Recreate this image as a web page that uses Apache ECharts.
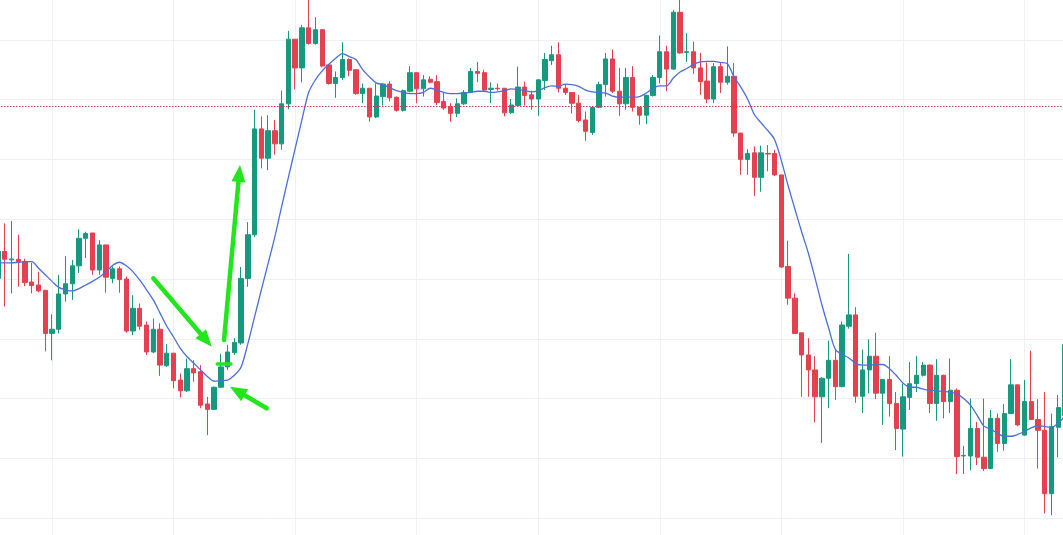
<!DOCTYPE html>
<html>
<head>
<meta charset="utf-8">
<script src="https://cdn.jsdelivr.net/npm/echarts@6/dist/echarts.min.js"></script>
<style>
  html, body { margin: 0; padding: 0; background: #fff; overflow: hidden; width: 1063px; height: 535px; position: relative; }
  /* the screenshot is a crop of a bigger chart, so the plot runs past the window edges */
  #chart { position: absolute; left: -2px; top: -20px; width: 1067px; height: 598px; }
</style>
</head>
<body>
<div id="chart"></div>
<script>
// candles: [open, close, low, high]
const ohlc = [
  [140.1, 144.6, 139.6, 145.3], [144.6, 143.3, 135.4, 149.3], [143.2, 143.35, 137.6, 149.7], [143.3, 142.9, 138.7, 147.4],
  [142.9, 139.4, 138.8, 143.4], [139.5, 138.9, 137.6, 142.7], [139.0, 138.0, 137.8, 141.2], [138.1, 130.9, 127.9, 138.2],
  [130.9, 131.6, 126.4, 134.1], [131.6, 137.5, 130.9, 140.7], [137.5, 139.2, 136.2, 143.8], [139.2, 142.2, 136.5, 143.2],
  [142.2, 146.8, 141.0, 148.3], [146.8, 147.6, 143.5, 147.9], [147.7, 141.5, 140.7, 147.7], [141.5, 145.7, 140.7, 146.5],
  [145.7, 140.3, 137.7, 145.7], [140.1, 141.7, 139.3, 142.1], [141.7, 139.9, 137.7, 142.1], [140.0, 131.3, 131.0, 140.4],
  [131.3, 135.1, 130.6, 137.3], [135.1, 132.1, 131.5, 135.9], [132.3, 127.8, 127.3, 132.9], [127.8, 131.6, 127.6, 133.4],
  [131.6, 125.6, 123.8, 132.6], [125.5, 127.6, 125.3, 129.1], [127.6, 123.0, 121.7, 127.6], [123.1, 121.3, 120.2, 124.2],
  [121.3, 125.0, 121.1, 126.7], [125.0, 124.3, 122.8, 126.4], [124.5, 118.9, 118.4, 125.6], [119.1, 118.2, 113.9, 120.3],
  [118.2, 121.9, 118.1, 122.0], [121.9, 125.3, 121.8, 127.5], [125.3, 127.8, 124.8, 129.0], [127.7, 129.4, 127.3, 130.1],
  [129.3, 140.1, 129.0, 142.0], [140.1, 147.4, 138.7, 149.5], [147.4, 165.1, 147.0, 168.3], [165.1, 160.2, 158.5, 167.2],
  [160.2, 164.8, 158.2, 167.4], [164.8, 162.6, 160.8, 166.6], [162.6, 169.3, 161.6, 171.5], [169.3, 180.1, 168.4, 181.5],
  [180.1, 175.3, 171.7, 180.1], [175.3, 182.0, 172.9, 182.5], [182.0, 179.4, 179.2, 187.0], [179.4, 181.7, 179.2, 183.8],
  [181.7, 175.6, 175.4, 181.7], [175.8, 172.7, 172.5, 175.8], [172.7, 173.7, 170.3, 174.7], [173.7, 176.7, 173.3, 179.6],
  [176.7, 174.9, 173.9, 176.9], [175.0, 171.0, 170.8, 175.0], [171.0, 171.9, 169.4, 172.7], [171.9, 167.1, 166.3, 171.9],
  [167.1, 170.6, 166.9, 172.7], [170.5, 172.6, 169.0, 172.7], [172.6, 170.3, 169.7, 173.1], [170.4, 168.2, 168.0, 170.5],
  [168.2, 171.5, 168.0, 171.7], [171.4, 174.5, 171.2, 175.6], [174.5, 171.8, 169.4, 174.5], [171.8, 173.3, 170.5, 174.1],
  [173.4, 172.9, 172.7, 173.9], [173.0, 169.5, 169.1, 174.1], [169.7, 168.6, 168.3, 171.2], [168.8, 167.7, 166.3, 169.4],
  [167.7, 169.3, 167.1, 170.2], [169.3, 171.2, 169.1, 171.6], [171.2, 174.7, 171.1, 175.3], [174.7, 174.4, 172.9, 176.3],
  [174.5, 171.6, 171.4, 175.0], [171.7, 171.9, 169.4, 172.9], [171.9, 171.8, 171.5, 172.7], [171.9, 167.8, 167.2, 171.9],
  [167.8, 169.1, 167.6, 170.1], [169.0, 172.1, 168.8, 175.5], [172.1, 170.7, 169.0, 173.0], [170.8, 170.1, 168.3, 171.5],
  [170.1, 173.3, 167.3, 173.4], [173.2, 176.7, 171.6, 177.8], [176.5, 177.5, 175.8, 179.0], [177.5, 171.9, 171.2, 179.6],
  [171.9, 171.2, 170.8, 172.6], [171.2, 169.4, 167.7, 171.2], [169.4, 166.5, 166.2, 170.8], [166.6, 164.7, 163.1, 168.0],
  [164.5, 168.7, 164.1, 168.8], [168.7, 172.5, 168.6, 173.0], [172.5, 176.8, 170.5, 177.8], [176.8, 171.4, 171.1, 178.4],
  [171.4, 169.3, 167.3, 175.3], [169.3, 173.7, 168.3, 175.3], [173.7, 168.7, 168.0, 175.6], [168.7, 167.4, 165.8, 168.8],
  [167.4, 170.7, 165.9, 170.8], [170.7, 173.7, 170.5, 174.1], [173.7, 178.0, 172.7, 180.7], [178.0, 175.1, 171.4, 179.0],
  [175.1, 184.6, 175.0, 185.0], [184.6, 177.8, 177.7, 187.2], [177.9, 178.0, 176.3, 181.1], [178.0, 175.3, 174.3, 179.7],
  [175.3, 173.0, 170.8, 177.8], [173.1, 170.1, 169.4, 176.2], [170.1, 175.5, 169.4, 176.1], [175.5, 172.9, 171.1, 176.1],
  [172.9, 173.9, 172.5, 178.9], [173.9, 164.4, 163.8, 176.1], [164.4, 160.0, 157.4, 164.4], [160.0, 161.0, 157.4, 161.7],
  [161.1, 157.0, 153.9, 162.2], [157.0, 161.1, 154.6, 162.3], [161.0, 160.9, 158.0, 162.4], [161.0, 157.4, 157.2, 161.6],
  [157.4, 142.0, 141.9, 157.4], [142.1, 136.8, 135.7, 146.4], [136.8, 130.9, 130.8, 137.6], [131.0, 127.3, 120.3, 131.0],
  [127.3, 124.8, 120.3, 130.1], [124.8, 120.3, 116.0, 127.1], [120.3, 123.4, 112.6, 123.6], [123.4, 126.4, 118.4, 129.7],
  [126.4, 122.0, 119.8, 128.1], [122.0, 132.3, 121.9, 132.9], [132.1, 134.0, 131.7, 144.2], [134.0, 120.4, 119.3, 135.3],
  [120.4, 124.8, 117.6, 128.2], [124.8, 127.1, 120.9, 129.9], [127.1, 120.9, 119.9, 131.0], [120.9, 123.2, 115.6, 123.3],
  [123.2, 119.2, 117.0, 127.1], [119.2, 115.0, 111.4, 121.1], [114.9, 120.3, 110.3, 122.5], [120.2, 122.5, 118.1, 126.1],
  [122.5, 123.9, 121.1, 127.1], [123.9, 125.6, 123.7, 126.1], [125.6, 119.2, 117.6, 125.7], [119.2, 123.9, 116.3, 126.6],
  [123.9, 119.5, 116.7, 124.0], [119.5, 121.4, 117.6, 126.7], [121.4, 110.3, 107.4, 121.7], [110.4, 110.5, 107.4, 112.1],
  [110.4, 115.0, 108.0, 120.0], [115.0, 110.2, 108.9, 116.1], [110.2, 108.3, 107.9, 120.0], [108.3, 116.7, 108.2, 118.1],
  [116.7, 112.5, 111.1, 117.5], [112.5, 117.5, 111.3, 119.1], [117.5, 122.3, 117.4, 126.6], [122.3, 115.6, 115.4, 122.3],
  [113.9, 119.5, 113.8, 123.1], [119.5, 116.5, 116.4, 128.0], [116.5, 114.7, 108.3, 119.9], [114.7, 104.1, 100.8, 121.1],
  [104.1, 115.3, 100.5, 117.5], [115.2, 118.5, 110.2, 120.6], [117.2, 129.0, 116.4, 130.1]
];

// blue moving-average line, read per candle
const ma = [
  142.7, 142.7, 142.7, 142.8, 142.9, 142.9, 141.8, 140.7, 139.6, 138.6,
  138.2, 138.0, 138.4, 139.0, 139.6, 140.3, 141.2, 142.3, 142.8, 142.2,
  141.2, 139.8, 138.2, 136.5, 134.3, 132.1, 130.3, 128.4, 127.0, 125.9,
  124.8, 123.7, 122.9, 123.0, 123.1, 123.9, 125.3, 129.2, 133.7, 138.2,
  142.6, 147.1, 152.1, 157.0, 161.8, 166.6, 171.2, 173.3, 174.8, 175.9,
  176.9, 177.7, 177.2, 176.7, 175.0, 173.8, 172.8, 172.5, 172.0, 171.5,
  171.2, 171.0, 171.0, 171.2, 171.9, 171.6, 171.2, 171.0, 171.0, 171.1,
  171.2, 171.4, 171.4, 171.2, 171.3, 171.5, 171.8, 171.7, 171.5, 171.3,
  171.5, 172.0, 172.3, 172.2, 172.6, 172.5, 172.2, 171.6, 171.3, 171.2,
  171.1, 170.6, 170.4, 170.4, 170.4, 170.5, 171.1, 171.9, 172.3, 172.3,
  173.6, 174.6, 175.2, 175.9, 176.3, 176.4, 176.4, 176.2, 176.0, 173.8,
  172.1, 170.1, 167.5, 166.1, 164.8, 163.3, 159.8, 155.6, 151.7, 147.9,
  144.3, 140.1, 135.7, 131.8, 128.2, 127.4, 126.8, 125.9, 125.6, 125.6,
  125.7, 125.7, 125.0, 123.9, 122.6, 121.9, 121.9, 121.6, 121.4, 121.3,
  121.2, 121.1, 120.8, 120.0, 118.9, 117.2, 115.4, 114.9, 114.2, 113.7,
  113.7, 114.0, 114.5, 115.1, 115.5, 115.3, 115.2, 115.9, 117.1
];

const categories = ohlc.map((_, i) => String(i));

// hand-drawn green annotations, in [bar index, price]; the end point is the arrowhead centre
const arrows = [
  [[23.0, 140.12], [30.83, 129.77]],
  [[33.47, 129.8], [35.72, 157.64]],
  [[39.79, 118.38], [35.44, 121.27]]
];
const dash = [[32.46, 125.85], [34.49, 125.85]];
const refLevel = 168.87;

const upColor = '#169a7f';
const downColor = '#e5404f';
const gridColor = '#eef0f4';
const green = '#22e61c';

const chart = echarts.init(document.getElementById('chart'), null, { renderer: 'canvas' });

const arrowLines = arrows.map(a => [
  { coord: a[0], symbol: 'none' },
  { coord: a[1], symbol: 'triangle', symbolSize: [14, 17] }
]);
arrowLines.push([
  { coord: dash[0], symbol: 'none' },
  { coord: dash[1], symbol: 'none', lineStyle: { width: 3.5 } }
]);

const option = {
  animation: false,
  backgroundColor: '#ffffff',
  grid: { left: 0, right: 0, top: 0, bottom: 0, containLabel: false },
  xAxis: [
    {
      type: 'category',
      data: categories,
      boundaryGap: false,
      axisLine: { show: false },
      axisTick: { show: false },
      axisLabel: { show: false },
      splitLine: {
        show: true,
        interval: function (idx) { return (idx - 8) % 18 === 0; },
        lineStyle: { color: gridColor, width: 1 }
      }
    },
    {
      type: 'value',
      min: 0,
      max: ohlc.length - 1,
      show: false
    }
  ],
  yAxis: {
    type: 'value',
    min: 90,
    max: 190,
    interval: 10,
    axisLine: { show: false },
    axisTick: { show: false },
    axisLabel: { show: false },
    splitLine: { show: true, lineStyle: { color: gridColor, width: 1 } }
  },
  series: [
    {
      name: 'price',
      type: 'candlestick',
      data: ohlc,
      barWidth: 4.8,
      itemStyle: {
        color: upColor,
        color0: downColor,
        borderColor: upColor,
        borderColor0: downColor,
        borderWidth: 1
      },
      markLine: {
        silent: true,
        symbol: 'none',
        label: { show: false },
        lineStyle: { color: '#dc3c46', type: [1.5, 1.5], width: 1 },
        data: [{ yAxis: refLevel }]
      }
    },
    {
      name: 'ma',
      type: 'line',
      data: ma,
      symbol: 'none',
      smooth: 0.3,
      lineStyle: { color: '#4a6fdc', width: 1.3 },
      z: 3
    },
    {
      name: 'notes',
      type: 'line',
      xAxisIndex: 1,
      data: [],
      z: 5,
      markLine: {
        silent: true,
        label: { show: false },
        lineStyle: { color: green, width: 4.5, type: 'solid', cap: 'round' },
        itemStyle: { color: green },
        data: arrowLines
      }
    }
  ]
};

chart.setOption(option);
</script>
</body>
</html>
